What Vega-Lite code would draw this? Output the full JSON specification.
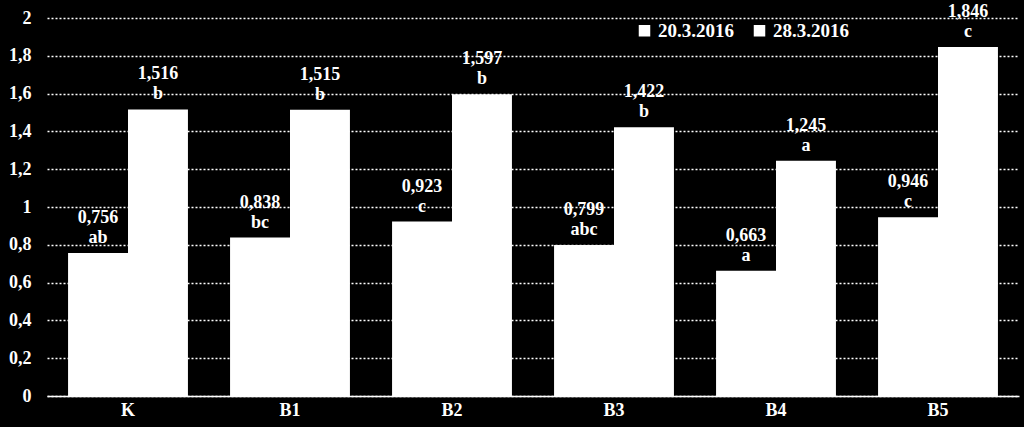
{
  "$schema": "https://vega.github.io/schema/vega-lite/v6.json",
  "width": 972,
  "height": 378,
  "autosize": {"type": "none"},
  "padding": {"left": 47, "top": 18, "right": 5, "bottom": 31},
  "background": "black",
  "config": {
    "view": {"stroke": null},
    "locale": {"number": {"decimal": ",", "thousands": ".", "grouping": [3], "currency": ["", ""]}},
    "font": "Liberation Serif"
  },
  "data": {
    "values": [
      {"cat": "K", "date": "20.3.2016", "value": 0.756, "letter": "ab"},
      {"cat": "K", "date": "28.3.2016", "value": 1.516, "letter": "b"},
      {"cat": "B1", "date": "20.3.2016", "value": 0.838, "letter": "bc"},
      {"cat": "B1", "date": "28.3.2016", "value": 1.515, "letter": "b"},
      {"cat": "B2", "date": "20.3.2016", "value": 0.923, "letter": "c"},
      {"cat": "B2", "date": "28.3.2016", "value": 1.597, "letter": "b"},
      {"cat": "B3", "date": "20.3.2016", "value": 0.799, "letter": "abc"},
      {"cat": "B3", "date": "28.3.2016", "value": 1.422, "letter": "b"},
      {"cat": "B4", "date": "20.3.2016", "value": 0.663, "letter": "a"},
      {"cat": "B4", "date": "28.3.2016", "value": 1.245, "letter": "a"},
      {"cat": "B5", "date": "20.3.2016", "value": 0.946, "letter": "c"},
      {"cat": "B5", "date": "28.3.2016", "value": 1.846, "letter": "c"}
    ]
  },
  "encoding": {
    "x": {
      "field": "cat", "type": "nominal", "sort": null,
      "scale": {"paddingInner": 0.26, "paddingOuter": 0.13},
      "axis": {
        "title": null, "labelAngle": 0, "labelColor": "white", "labelFont": "Liberation Serif",
        "labelFontSize": 18, "labelFontWeight": "bold", "domainColor": "white", "domainWidth": 1.5,
        "ticks": false, "labelPadding": 5
      }
    },
    "xOffset": {"field": "date", "type": "nominal"},
    "y": {
      "field": "value", "type": "quantitative",
      "scale": {"domain": [0, 2], "nice": false},
      "axis": {
        "title": null, "values": [0, 0.2, 0.4, 0.6, 0.8, 1, 1.2, 1.4, 1.6, 1.8, 2], "format": "~g",
        "labelColor": "white", "labelFont": "Liberation Serif", "labelFontSize": 18, "labelFontWeight": "bold",
        "domain": false, "ticks": false, "labelPadding": 16,
        "gridColor": "white", "gridDash": [2, 2], "gridWidth": 1.5, "gridOpacity": 1
      }
    }
  },
  "layer": [
    {
      "mark": {"type": "bar", "color": "white"},
      "encoding": {
        "color": {
          "field": "date", "type": "nominal",
          "scale": {"range": ["white", "white"]},
          "legend": {
            "title": null, "orient": "none", "direction": "horizontal", "legendX": 588, "legendY": 3,
            "symbolType": "square", "symbolSize": 100, "symbolFillColor": "white", "symbolStrokeColor": "white",
            "labelColor": "white", "labelFont": "Liberation Serif", "labelFontSize": 19, "labelFontWeight": "bold",
            "columnPadding": 16, "symbolOffset": 0, "labelOffset": 4
          }
        }
      }
    },
    {
      "mark": {"type": "text", "color": "white", "baseline": "alphabetic", "dy": -30, "fontSize": 18, "fontWeight": "bold", "font": "Liberation Serif"},
      "encoding": {"text": {"field": "value", "type": "quantitative", "format": ".3f"}}
    },
    {
      "mark": {"type": "text", "color": "white", "baseline": "alphabetic", "dy": -10, "fontSize": 18, "fontWeight": "bold", "font": "Liberation Serif"},
      "encoding": {"text": {"field": "letter", "type": "nominal"}}
    }
  ]
}
